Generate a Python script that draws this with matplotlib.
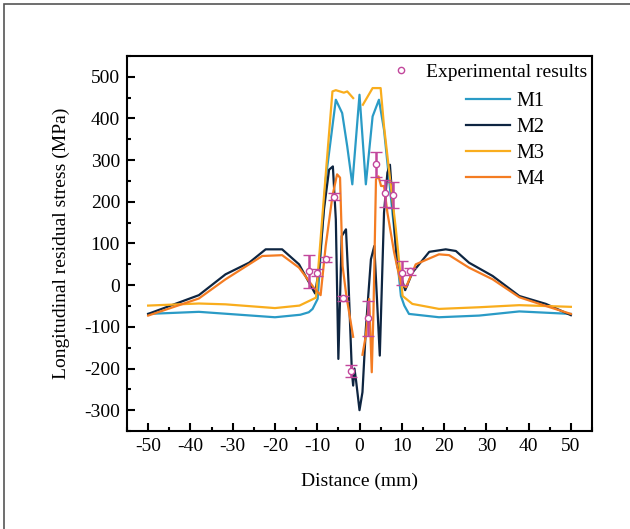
import numpy as np
import matplotlib
matplotlib.use("Agg")
import matplotlib.pyplot as plt
from matplotlib.lines import Line2D
from matplotlib.patches import Rectangle
from matplotlib.ticker import MultipleLocator

plt.rcParams["font.family"] = "serif"
plt.rcParams["font.serif"] = ["Liberation Serif", "DejaVu Serif"]
plt.rcParams["axes.unicode_minus"] = False

nan = np.nan

# simulated profiles
m1_x = [-50, -38, -20, -14, -12, -11.1, -9.9, -8, -5.6, -4.1, -2.9, -1.7, 0, 1.5,
        3.1, 4.6, 5.8, 7.8, 9.8, 10.6, 11.7, 18.8, 28.3, 37.8, 50]
m1_y = [-69, -64, -77, -71, -65, -57, -33, 254, 445, 413, 333, 242, 457, 242,
        405, 445, 373, 174, -26, -49, -69, -77, -73, -63, -69]

m2_x = [-50, -38, -31.7, -26.1, -22.2, -18.3, -14.3, -10.5, -9.6, -8.4, -7.2, -6.3,
        -5.6, -5.0, -4.2, -3.2, -2.6, -1.8, -1.5, -1.2, -0.8, 0, 0.7, 1.5, 2.7,
        3.5, 3.9, 4.8, 5.8, 6.6, 7.2, 7.9, 8.9, 10.2, 10.8, 12.5, 16.5, 20.4,
        22.8, 25.9, 31.5, 37.8, 44.1, 50]
m2_y = [-69, -24, 26, 54, 86, 86, 50, -20, 38, 182, 277, 285,
        158, -177, 118, 134, 6, -209, -241, -200, -230, -300, -257, -105, 62,
        94, 14, -169, 174, 270, 289, 190, 46, 8, -12, 30, 80, 86,
        82, 54, 22, -26, -45, -72]

m3_x = [-50, -38, -31.7, -20, -14.2, -10.3, -8.4, -6.4, -5.6, -3.7, -2.9, -1.5, nan,
        0.8, 3.1, 5.0, 5.8, 8.6, 10.2, 12.5, 18.8, 28.3, 37.8, 50]
m3_y = [-49, -44, -46, -55, -49, -30, 214, 465, 468, 462, 465, 449, nan,
        433, 473, 473, 381, 134, -26, -45, -57, -53, -48, -52]

m4_x = [-50, -38, -31.7, -23, -18.3, -14.3, -10.8, -9.2, -8, -6.4, -5.3, -4.6, -4.0,
        -3.1, -1.5, nan, 0.7, 1.5, 2.3, 2.9, 3.3, 3.9, 4.5, 5.1, 5.8, 6.6, 8.2,
        9.8, 11, 13.3, 18.8, 21.2, 25.9, 31.5, 37.8, 44.1, 50]
m4_y = [-73, -32, 14, 70, 72, 42, -6, -24, 94, 214, 266, 258, 46,
        -26, -124, nan, -167, -121, -33, -209, -65, 254, 261, 238, 238, 174, 78,
        3, -5, 50, 74, 72, 42, 14, -29, -50, -69]

# measurements
exp_x = [-12, -10, -8, -6, -4, -2, 2, 4, 6, 8, 10, 12]
exp_y = [33, 30, 62, 212, -31, -206, -80, 290, 220, 216, 29, 33]
exp_err = [39, 8, 6, 8, 6, 14, 41, 30, 33, 31, 28, 8]

c_m1 = "#2a9bc6"
c_m2 = "#0e2541"
c_m3 = "#f9ad1d"
c_m4 = "#f47c22"
c_exp = "#c2479c"

fig = plt.figure(figsize=(6.30, 5.29), dpi=100)
fig.patches.append(Rectangle((4 / 630, -0.1), 1.2, 1.1 - 4 / 529, transform=fig.transFigure,
                             fill=False, edgecolor="#555555", linewidth=1.2))
ax = fig.add_axes([127 / 630, 1 - 431 / 529, 465 / 630, 375 / 529])

lw = 1.6
ax.plot(m1_x, m1_y, color=c_m1, lw=lw, label="M1")
ax.plot(m2_x, m2_y, color=c_m2, lw=lw, label="M2")
ax.plot(m3_x, m3_y, color=c_m3, lw=lw, label="M3")
ax.plot(m4_x, m4_y, color=c_m4, lw=lw, label="M4")
ax.errorbar(exp_x, exp_y, yerr=exp_err, fmt="o", color=c_exp, ecolor=c_exp,
            elinewidth=1.8, capsize=4, capthick=1.8, ms=4.5, mfc="white",
            mec=c_exp, mew=1.0, zorder=5)

ax.set_xlim(-55, 55)
ax.set_ylim(-350, 550)
ax.xaxis.set_major_locator(MultipleLocator(10))
ax.xaxis.set_minor_locator(MultipleLocator(5))
ax.yaxis.set_major_locator(MultipleLocator(100))
ax.yaxis.set_minor_locator(MultipleLocator(50))
ax.tick_params(which="both", direction="in", top=False, right=False, width=1.5,
               labelsize=14)
ax.tick_params(which="major", length=6, pad=5)
ax.tick_params(which="minor", length=3)
for s in ax.spines.values():
    s.set_linewidth(1.5)

ax.set_xlabel("Distance (mm)", fontsize=14, labelpad=13)
ax.set_ylabel("Longitudinal residual stress (MPa)", fontsize=14, labelpad=10)

exp_handle = Line2D([], [], ls="none", marker="o", ms=4.5, mfc="white", mec=c_exp, mew=1.0)
leg1 = ax.legend([exp_handle], ["Experimental results"], loc="center right",
                 bbox_to_anchor=(0.99, 0.957), frameon=False, fontsize=14,
                 handlelength=1.0, handletextpad=0.8, borderpad=0, borderaxespad=0)
ax.add_artist(leg1)
h = ax.get_lines()[:4]
ax.legend(h, ["M1", "M2", "M3", "M4"], loc="upper left", bbox_to_anchor=(0.729, 0.905),
          frameon=False, fontsize=14.5, handlelength=2.2, handletextpad=0.3,
          labelspacing=0.35, borderpad=0, borderaxespad=0)

fig.savefig("out.png", dpi=100)
